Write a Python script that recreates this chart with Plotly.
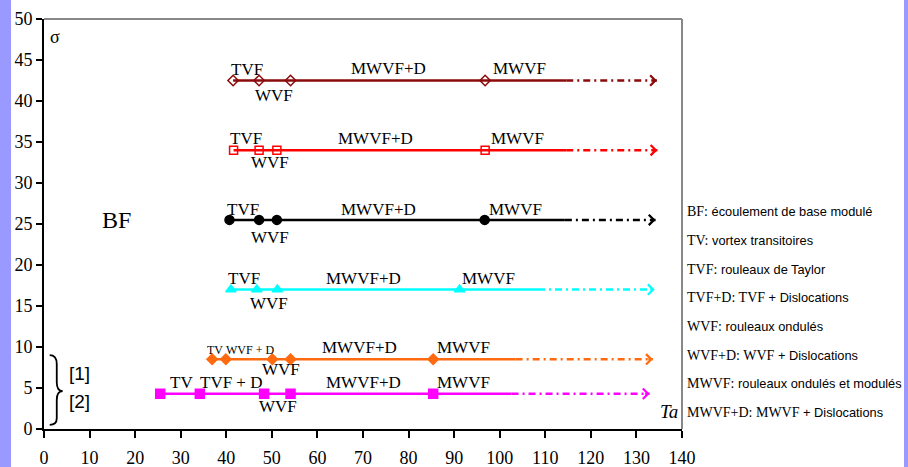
import plotly.graph_objects as go

# ---------------- data ----------------
sigma_levels = [42.5, 34.0, 25.5, 17.0, 8.5, 4.3]
ta_row1 = [41.5, 47.2, 54.1, 96.8]
ta_row2 = [41.6, 47.2, 51.1, 96.8]
ta_row3 = [40.7, 47.2, 51.1, 96.7]
ta_row4 = [41.0, 46.7, 51.2, 91.2]
ta_row5 = [36.9, 39.9, 50.1, 54.1, 85.4]
ta_row6 = [25.5, 34.2, 48.3, 54.1, 85.4]
solid_end = [114.6, 114.6, 114.3, 108.4, 103.5, 102.6]
arrow_end = [134.5, 134.6, 134.2, 134.0, 133.6, 132.9]

labels_row1 = ["TVF", "WVF", "MWVF+D", "MWVF"]
labels_row2 = ["TVF", "WVF", "MWVF+D", "MWVF"]
labels_row3 = ["TVF", "WVF", "MWVF+D", "MWVF"]
labels_row4 = ["TVF", "WVF", "MWVF+D", "MWVF"]
labels_row5 = ["TV", "WVF + D", "WVF", "MWVF+D", "MWVF"]
labels_row6 = ["TV", "TVF + D", "WVF", "MWVF+D", "MWVF"]

x_ticks = list(range(0, 141, 10))
y_ticks = list(range(0, 51, 5))

glossary_abbr = ["BF:", "TV:", "TVF:", "TVF+D: TVF", "WVF:", "WVF+D: WVF", "MWVF:", "MWVF+D: MWVF"]
glossary_desc = ["écoulement de base modulé", "vortex transitoires", "rouleaux de Taylor",
                 "+ Dislocations", "rouleaux ondulés", "+ Dislocations",
                 "rouleaux ondulés et modulés", "+ Dislocations"]

# ---------------- styles ----------------
rows = [ta_row1, ta_row2, ta_row3, ta_row4, ta_row5, ta_row6]
row_labels = [labels_row1, labels_row2, labels_row3, labels_row4, labels_row5, labels_row6]
colors = ["#8B0A0A", "#FF0000", "#000000", "#00FFFF", "#FF6A10", "#FF00FF"]
symbols = ["diamond-open", "square-open", "circle", "triangle-up", "diamond", "square"]
msizes = [8, 8, 9, 9, 8, 9]
# label placement: (x, dy relative to level, fontsize)
label_pos = [
    [(44.5, 1.4, 17), (50.4, -1.8, 17), (75.6, 1.5, 17), (104.4, 1.5, 17)],
    [(44.4, 1.4, 17), (49.5, -1.5, 17), (72.8, 1.4, 17), (103.8, 1.4, 17)],
    [(43.7, 1.3, 17), (49.6, -2.1, 17), (73.4, 1.3, 17), (103.5, 1.3, 17)],
    [(43.8, 1.4, 17), (49.3, -1.7, 17), (70.0, 1.4, 17), (97.6, 1.4, 17)],
    [(37.5, 1.1, 12), (45.2, 1.1, 12), (52.1, -1.2, 17), (69.3, 1.4, 17), (92.1, 1.4, 17)],
    [(30.1, 1.4, 17), (41.0, 1.4, 17), (51.3, -1.5, 17), (70.2, 1.4, 17), (92.1, 1.4, 17)],
]
SERIF = "Liberation Serif, Times New Roman, serif"
SANS = "Liberation Sans, Arial, sans-serif"

fig = go.Figure()
annotations = []

for i, (level, xs) in enumerate(zip(sigma_levels, rows)):
    c = colors[i]
    fig.add_trace(go.Scatter(x=[xs[0], solid_end[i]], y=[level, level], mode="lines",
                             line=dict(color=c, width=2.5), showlegend=False, hoverinfo="skip"))
    fig.add_trace(go.Scatter(x=[solid_end[i], arrow_end[i]], y=[level, level], mode="lines",
                             line=dict(color=c, width=2.5, dash="7px,4px,2px,4px"),
                             showlegend=False, hoverinfo="skip"))
    fig.add_trace(go.Scatter(x=xs, y=[level] * len(xs), mode="markers",
                             marker=dict(symbol=symbols[i], size=msizes[i], color=c,
                                         line=dict(color=c, width=1.5)),
                             showlegend=False, hoverinfo="skip"))
    annotations.append(dict(x=arrow_end[i], y=level, xref="x", yref="y", ax=-6, ay=0,
                            axref="pixel", ayref="pixel", showarrow=True, arrowhead=4,
                            arrowsize=1, arrowwidth=2, arrowcolor=c, text=""))
    for txt, (lx, dy, fs) in zip(row_labels[i], label_pos[i]):
        annotations.append(dict(x=lx, y=level + dy, xref="x", yref="y", text=txt,
                                showarrow=False, font=dict(family=SERIF, size=fs, color="black"),
                                xanchor="center", yanchor="middle"))

annotations.append(dict(x=15.9, y=25.5, xref="x", yref="y", text="BF", showarrow=False,
                        font=dict(family=SERIF, size=24, color="black")))
annotations.append(dict(x=137.2, y=2.1, xref="x", yref="y", text="<i>Ta</i>", showarrow=False,
                        font=dict(family=SERIF, size=19, color="black")))
annotations.append(dict(x=2.4, y=47.8, xref="x", yref="y", text="σ", showarrow=False,
                        font=dict(family=SERIF, size=18, color="black")))
annotations.append(dict(x=7.7, y=6.8, xref="x", yref="y", text="[1]", showarrow=False,
                        font=dict(family=SANS, size=19, color="black")))
annotations.append(dict(x=7.7, y=3.3, xref="x", yref="y", text="[2]", showarrow=False,
                        font=dict(family=SANS, size=19, color="black")))

for k, (a, d) in enumerate(zip(glossary_abbr, glossary_desc)):
    py = 211.7 + k * 28.7
    annotations.append(dict(
        x=(685 - 44) / 638, y=(429 - py) / 410, xref="paper", yref="paper",
        xanchor="left", yanchor="middle", showarrow=False,
        text=f"<span style=\"font-family:'Liberation Serif'; font-size:14px\">{a}</span> {d}",
        font=dict(family=SANS, size=12.8, color="black")))

shapes = [
    dict(type="line", xref="paper", yref="paper", x0=0, x1=1, y0=1, y1=1,
         line=dict(color="#888888", width=2)),
    dict(type="line", xref="paper", yref="paper", x0=1, x1=1, y0=0, y1=1,
         line=dict(color="#888888", width=2)),
    dict(type="rect", xref="paper", yref="paper", x0=-0.08, x1=(11 - 44) / 638,
         y0=-0.2, y1=1.2, fillcolor="#9999FF", line=dict(width=0), layer="below"),
    dict(type="rect", xref="paper", yref="paper", x0=(904 - 44) / 638, x1=1.5,
         y0=-0.2, y1=1.2, fillcolor="#9999FF", line=dict(width=0), layer="below"),
    dict(type="path", xref="x", yref="y",
         path="M 1.25,9.0 Q 2.8,9.0 2.8,7.9 L 2.8,5.7 Q 2.8,4.63 4.1,4.63 "
              "Q 2.8,4.63 2.8,3.55 L 2.8,1.3 Q 2.8,0.5 1.25,0.5",
         line=dict(color="black", width=1.8)),
]

fig.update_layout(
    width=908, height=467,
    margin=dict(l=44, r=226, t=19, b=38, autoexpand=False),
    paper_bgcolor="white", plot_bgcolor="white",
    annotations=annotations, shapes=shapes,
    xaxis=dict(range=[0, 140], tickvals=x_ticks, showgrid=False, zeroline=False,
               showline=True, linecolor="black", linewidth=2, ticks="outside",
               ticklen=7, tickwidth=2, tickcolor="black", automargin=False,
               ticklabelstandoff=4,
               tickfont=dict(family=SERIF, size=18, color="black")),
    yaxis=dict(range=[0, 50], tickvals=y_ticks, showgrid=False, zeroline=False,
               showline=True, linecolor="black", linewidth=2, ticks="outside",
               ticklen=6, tickwidth=2, tickcolor="black", automargin=False,
               tickfont=dict(family=SERIF, size=18, color="black")),
)

fig.write_html("out.html", config={"displayModeBar": False},
               post_script="document.body.style.margin='0px';document.body.style.overflow='hidden';")
